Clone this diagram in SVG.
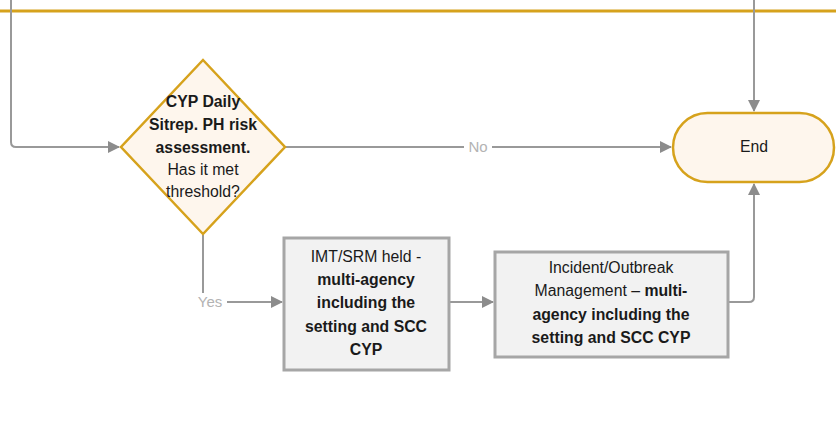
<svg xmlns="http://www.w3.org/2000/svg" width="836" height="422" viewBox="0 0 836 422">
<defs>
<marker id="arr" markerWidth="12" markerHeight="12" refX="11" refY="6" orient="auto" markerUnits="userSpaceOnUse">
<path d="M0,0 L12,6 L0,12 Z" fill="#8c8c8c"/>
</marker>
<style>
.conn{fill:none;stroke:#999;stroke-width:2}
.lbl{font-family:"Liberation Sans",Arial,sans-serif;font-size:15px;fill:#b3b3b3;text-anchor:middle}
.t{font-family:"Liberation Sans",Arial,sans-serif;font-size:15.8px;fill:#1a1a1a;text-anchor:middle}
.b{font-weight:bold}
.proc{fill:#f2f2f2;stroke:#a6a6a6;stroke-width:3}
.gold{fill:#fef6ed;stroke:#d6a21c;stroke-width:2.5}
</style>
</defs>
<rect width="836" height="422" fill="#fff"/>
<line x1="0" y1="11" x2="836" y2="11" stroke="#d6a21c" stroke-width="3"/>
<g id="connectors">
<path class="conn" d="M11,0 V142 Q11,147 16,147 H119" marker-end="url(#arr)"/>
<path class="conn" d="M754,0 V111" marker-end="url(#arr)"/>
<path class="conn" d="M286,147 H671" marker-end="url(#arr)"/>
<rect x="464" y="138" width="28" height="18" fill="#fff"/>
<text class="lbl" x="478" y="152">No</text>
<path class="conn" d="M203,235 V302 H282" marker-end="url(#arr)"/>
<rect x="193" y="293" width="34" height="18" fill="#fff"/>
<text class="lbl" x="210" y="307">Yes</text>
<path class="conn" d="M450,302 H493" marker-end="url(#arr)"/>
<path class="conn" d="M729,302 H749 Q754,302 754,297 V184" marker-end="url(#arr)"/>
</g>
<g id="decision">
<polygon class="gold" points="203,60 285,147 203,234 121,147"/>
<text class="t b" x="203" y="107">CYP Daily</text>
<text class="t b" x="203" y="130">Sitrep. PH risk</text>
<text class="t b" x="203" y="153">assessment.</text>
<text class="t" x="203" y="175">Has it met</text>
<text class="t" x="203" y="197">threshold?</text>
</g>
<g id="end">
<rect class="gold" x="673" y="113" width="161" height="69" rx="34.5"/>
<text class="t" x="754" y="152">End</text>
</g>
<g id="imt">
<rect class="proc" x="284" y="238" width="165" height="132"/>
<text class="t" x="366" y="262">IMT/SRM held -</text>
<text class="t b" x="366" y="285">multi-agency</text>
<text class="t b" x="366" y="308">including the</text>
<text class="t b" x="366" y="332">setting and SCC</text>
<text class="t b" x="366" y="355">CYP</text>
</g>
<g id="incident">
<rect class="proc" x="495" y="252" width="233" height="105"/>
<text class="t" x="611" y="273">Incident/Outbreak</text>
<text class="t" x="611" y="296">Management – <tspan class="b">multi-</tspan></text>
<text class="t b" x="611" y="320">agency including the</text>
<text class="t b" x="611" y="343">setting and SCC CYP</text>
</g>
</svg>
